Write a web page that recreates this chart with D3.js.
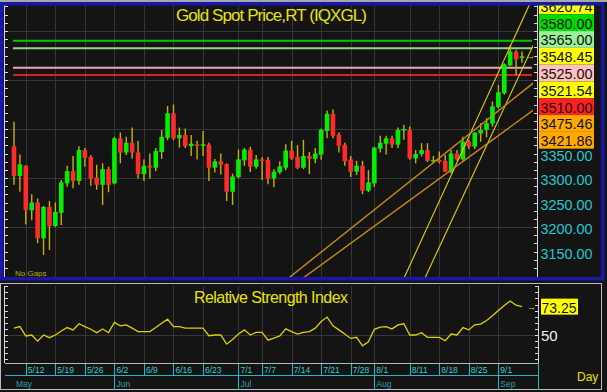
<!DOCTYPE html>
<html>
<head>
<meta charset="utf-8">
<script src="https://cdn.jsdelivr.net/npm/d3@7"></script>
<style>
body { margin: 0; background: #141414; }
svg { display: block; font-family: "Liberation Sans", Arial, sans-serif; }
</style>
</head>
<body>
<script>
// ---- data ----
const dates = [
  "2025-05-08","2025-05-09","2025-05-12","2025-05-13","2025-05-14","2025-05-15","2025-05-16",
  "2025-05-19","2025-05-20","2025-05-21","2025-05-22","2025-05-23","2025-05-26","2025-05-27",
  "2025-05-28","2025-05-29","2025-05-30","2025-06-02","2025-06-03","2025-06-04","2025-06-05",
  "2025-06-06","2025-06-09","2025-06-10","2025-06-11","2025-06-12","2025-06-13","2025-06-16",
  "2025-06-17","2025-06-18","2025-06-19","2025-06-20","2025-06-23","2025-06-24","2025-06-25",
  "2025-06-26","2025-06-27","2025-06-30","2025-07-01","2025-07-02","2025-07-03","2025-07-04",
  "2025-07-07","2025-07-08","2025-07-09","2025-07-10","2025-07-11","2025-07-14","2025-07-15",
  "2025-07-16","2025-07-17","2025-07-18","2025-07-21","2025-07-22","2025-07-23","2025-07-24",
  "2025-07-25","2025-07-28","2025-07-29","2025-07-30","2025-07-31","2025-08-01","2025-08-04",
  "2025-08-05","2025-08-06","2025-08-07","2025-08-08","2025-08-11","2025-08-12","2025-08-13",
  "2025-08-14","2025-08-15","2025-08-18","2025-08-19","2025-08-20","2025-08-21","2025-08-22",
  "2025-08-25","2025-08-26","2025-08-27","2025-08-28","2025-08-29","2025-09-01","2025-09-02",
  "2025-09-03","2025-09-04","2025-09-05"
]
const open = [3365,3304,3325,3234,3250,3177,3241,3202,3229,3289,3314,3294,3357,3343,3301,3286,3318,
  3289,3381,3352,3372,3352,3308,3325,3321,3353,3382,3432,3381,3388,3365,3369,3366,3368,3321,3334,3328,
  3272,3302,3336,3358,3323,3338,3337,3299,3312,3321,3356,3343,3321,3345,3339,3348,3396,3431,3388,3368,
  3338,3313,3325,3274,3289,3360,3370,3381,3368,3397,3398,3340,3349,3357,3335,3337,3335,3313,3350,3338,
  3374,3364,3391,3398,3411,3445,3473,3530,3558,3545]
const high = [3415,3348,3326,3267,3258,3243,3253,3250,3296,3325,3345,3365,3361,3347,3327,3330,3323,
  3384,3393,3384,3403,3376,3338,3350,3361,3398,3447,3450,3403,3401,3388,3376,3396,3372,3339,3350,3330,
  3309,3358,3361,3364,3347,3343,3343,3318,3334,3369,3376,3367,3378,3353,3361,3401,3438,3440,3393,3372,
  3345,3335,3335,3316,3364,3386,3386,3386,3403,3408,3405,3357,3371,3371,3345,3354,3347,3357,3357,3384,
  3378,3394,3412,3422,3456,3490,3534,3571,3561,3558]
const low = [3286,3272,3205,3214,3167,3143,3153,3200,3204,3282,3279,3286,3323,3284,3276,3245,3271,
  3287,3330,3347,3340,3299,3294,3299,3314,3339,3377,3377,3362,3361,3345,3338,3345,3294,3311,3307,3253,
  3245,3299,3325,3312,3319,3296,3287,3281,3308,3316,3337,3318,3318,3308,3330,3337,3381,3381,3352,3325,
  3302,3306,3267,3271,3282,3352,3348,3361,3361,3378,3338,3330,3344,3333,3330,3330,3312,3309,3335,3335,
  3359,3359,3374,3383,3405,3442,3470,3528,3510,3535]
const close = [3304,3328,3235,3250,3177,3241,3202,3231,3291,3314,3294,3357,3341,3299,3286,3318,3286,
  3381,3352,3372,3352,3308,3325,3321,3355,3384,3432,3381,3388,3365,3370,3366,3369,3321,3334,3327,3272,
  3303,3338,3358,3323,3338,3336,3299,3313,3324,3356,3340,3321,3345,3339,3350,3398,3431,3386,3366,3334,
  3313,3325,3274,3291,3362,3372,3381,3368,3398,3400,3340,3349,3357,3335,3337,3333,3313,3350,3338,3374,
  3364,3392,3398,3412,3446,3475,3532,3558,3542,3548.45]
const rsi = [55.6,56.9,49.2,50,45,50,47.8,50,53.3,56.1,54.2,59.2,56.9,54.7,51.9,55,51.9,60.3,57.5,
  58.3,55.6,52.8,52.8,52.8,56.1,59.7,63,56.9,56.9,55.6,55.6,55.6,55.6,49.4,50,50,42.5,46.4,50.8,54.2,
  50,52.2,52.2,45.8,47.5,49.2,55,52.8,50.8,52.2,52.8,55.6,61.1,64.7,57.5,54.2,50.8,47.2,48.1,41.1,44.4,
  54.7,56.4,56.9,55,58.3,59.2,50,50,51.9,48.1,48.1,48.1,45.3,50.8,50,56.1,54.2,58.3,58.9,61.9,65.8,
  70,74.2,77.8,74.4,73.25]

const tickDates = ["2025-05-12","2025-05-19","2025-05-26","2025-06-02","2025-06-09","2025-06-16",
  "2025-06-23","2025-07-01","2025-07-07","2025-07-14","2025-07-21","2025-07-28","2025-08-01",
  "2025-08-11","2025-08-18","2025-08-25","2025-09-01"]
const monthNames = ["May","Jun","Jul","Aug","Sep"]
const monthStarts = ["2025-05-08","2025-06-02","2025-07-01","2025-08-01","2025-09-01"]
const priceTicks = [3150,3200,3250,3300,3350,3400,3450,3500,3550,3600]

// horizontal alert levels and trendlines (two anchors each)
const levels = [3580, 3565, 3525, 3510]
const levelColors = ["#00c800", "#8ad88a", "#e8aaaa", "#dc1e1e"]
const levelBoxColors = ["#00dc00", "#98f098", "#ffc0c0", "#ff2020"]
const trendFrom = [["2025-08-19", 3279.1], ["2025-08-22", 3262.5], ["2025-07-25", 3187.2], ["2025-07-25", 3157.9]]
const trendTo = [["2025-09-05", 3620.74], ["2025-09-05", 3521.54], ["2025-09-05", 3475.46], ["2025-09-05", 3421.86]]
const trendColors = ["#e6d200", "#e6d200", "#c88a1c", "#c88a1c"]
const trendBoxColors = ["#ffff00", "#ffff00", "#ffa800", "#ffa800"]

// ---- layout ----
const W = 607, H = 392
const main = {left: 5, right: 537, top: 5, bottom: 277}
const sub = {top: 286, bottom: 363}

const svg = d3.select("body").append("svg")
    .attr("width", W)
    .attr("height", H)

svg.append("rect").attr("width", W).attr("height", H).attr("fill", "#141414")

const defs = svg.append("defs")
defs.append("clipPath").attr("id", "plotClip")
    .append("rect").attr("x", main.left + 1).attr("y", main.top)
    .attr("width", 533 - main.left - 1).attr("height", main.bottom - main.top)
defs.append("clipPath").attr("id", "labelClip")
    .append("rect").attr("x", 538).attr("y", main.top).attr("width", 60).attr("height", main.bottom - main.top)

const x = d3.scalePoint().domain(dates).range([14, 522])
const y = d3.scaleLinear().domain([3150, 3600]).range([251.5, 31])
const yr = d3.scaleLinear().domain([0, 100]).range([396, 274])

const gridColor = "#363636"

// ---- price panel ----
const grid = svg.append("g")
grid.selectAll("line.h").data([3200, 3300, 3400, 3500, 3600]).join("line")
    .attr("x1", main.left).attr("x2", main.right)
    .attr("y1", d => y(d) + 0.5).attr("y2", d => y(d) + 0.5)
    .attr("stroke", gridColor)
grid.selectAll("line.v").data(tickDates).join("line")
    .attr("x1", d => Math.round(x(d)) + 0.5).attr("x2", d => Math.round(x(d)) + 0.5)
    .attr("y1", main.top).attr("y2", main.bottom)
    .attr("stroke", gridColor)

const plot = svg.append("g").attr("clip-path", "url(#plotClip)")

plot.selectAll("line.level").data(levels).join("line")
    .attr("x1", x(dates[0]) - 1).attr("x2", 532)
    .attr("y1", d => y(d)).attr("y2", d => y(d))
    .attr("stroke", (d, i) => levelColors[i])
    .attr("stroke-width", 2)

const candles = dates.map((d, i) => ({d, o: open[i], h: high[i], l: low[i], c: close[i]}))
const cg = plot.selectAll("g.candle").data(candles).join("g")
cg.append("line")
    .attr("x1", d => x(d.d)).attr("x2", d => x(d.d))
    .attr("y1", d => y(d.h)).attr("y2", d => y(d.l))
    .attr("stroke", "#c8b000").attr("stroke-width", 1.4)
cg.append("rect")
    .attr("x", d => x(d.d) - 2.3)
    .attr("width", 4.6)
    .attr("y", d => y(Math.max(d.o, d.c)))
    .attr("height", d => Math.max(1.6, Math.abs(y(d.o) - y(d.c))))
    .attr("fill", d => d.c >= d.o ? "#00f000" : "#ff2a2a")

// trendlines extended across the plot
trendFrom.forEach((f, i) => {
    const t = trendTo[i]
    const x1 = x(f[0]), y1 = y(f[1]), x2 = x(t[0]), y2 = y(t[1])
    const k = (y2 - y1) / (x2 - x1)
    plot.append("line")
        .attr("x1", -200).attr("y1", y1 + k * (-200 - x1))
        .attr("x2", 800).attr("y2", y1 + k * (800 - x1))
        .attr("stroke", trendColors[i])
        .attr("stroke-width", i < 2 ? 1.1 : 1.4)
})

// last price arrow
svg.append("text").attr("x", 526).attr("y", y(close[close.length - 1]) + 3)
    .attr("font-size", 9).attr("fill", "#e6d200").text("→")

// axes lines and ticks
const axisColor = "#d8d8d8"
const minorTicks = d3.range(3000, 3700, 100 / 6).filter(v => y(v) > main.top + 1 && y(v) < main.bottom - 1)
svg.append("line").attr("x1", main.left - 0.5).attr("x2", main.left - 0.5)
    .attr("y1", main.top).attr("y2", main.bottom).attr("stroke", axisColor)
svg.selectAll("line.lt").data(minorTicks).join("line")
    .attr("x1", main.left - 0.5).attr("x2", main.left + 3)
    .attr("y1", d => Math.round(y(d)) + 0.5).attr("y2", d => Math.round(y(d)) + 0.5)
    .attr("stroke", axisColor)
svg.append("line").attr("x1", main.right + 0.5).attr("x2", main.right + 0.5)
    .attr("y1", main.top).attr("y2", main.bottom).attr("stroke", axisColor)
svg.selectAll("line.rt").data(minorTicks).join("line")
    .attr("x1", main.right - 3).attr("x2", main.right + 0.5)
    .attr("y1", d => Math.round(y(d)) + 0.5).attr("y2", d => Math.round(y(d)) + 0.5)
    .attr("stroke", axisColor)

// stacked value boxes, anchored on last close
const lastClose = close[close.length - 1]
const boxes = [
    ...levels.map((v, i) => ({v, fill: levelBoxColors[i]})),
    ...trendTo.map((t, i) => ({v: t[1], fill: trendBoxColors[i]})),
    {v: lastClose, fill: "#ffff00"}
].sort((a, b) => b.v - a.v)
const boxH = 16.8
const anchorIdx = boxes.findIndex(b => b.v === lastClose)
boxes.forEach((b, k) => b.cy = y(lastClose) + (k - anchorIdx) * boxH)
const stackBottom = boxes[boxes.length - 1].cy + boxH / 2

// price axis labels that are not hidden by the value boxes
svg.selectAll("text.pt").data(priceTicks.filter(v => y(v) > stackBottom)).join("text")
    .attr("x", 540.5).attr("y", d => y(d) + 2.2)
    .attr("dominant-baseline", "central")
    .attr("font-size", 14.5).attr("fill", "#1ec8d2")
    .attr("textLength", 52).attr("lengthAdjust", "spacingAndGlyphs")
    .text(d => d.toFixed(2))

const bg = svg.append("g").attr("clip-path", "url(#labelClip)")
bg.selectAll("rect").data(boxes).join("rect")
    .attr("x", 539).attr("width", 55)
    .attr("y", d => d.cy - boxH / 2).attr("height", boxH)
    .attr("fill", d => d.fill)
bg.selectAll("text").data(boxes).join("text")
    .attr("x", 540.5).attr("y", d => d.cy + 0.5)
    .attr("dominant-baseline", "central")
    .attr("font-size", 15).attr("fill", "#111")
    .attr("textLength", 52).attr("lengthAdjust", "spacingAndGlyphs")
    .text(d => d.v.toFixed(2))

// title and note
svg.append("text").attr("x", 176).attr("y", 21)
    .attr("font-size", 17).attr("fill", "#e8e400")
    .attr("textLength", 191).attr("lengthAdjust", "spacing")
    .text("Gold Spot Price,RT (IQXGL)")
svg.append("text").attr("x", 15).attr("y", 276)
    .attr("font-size", 8).attr("fill", "#b4b000")
    .text("No Gaps")

// frame of price panel
svg.append("rect").attr("x", 0).attr("y", 0).attr("width", W).attr("height", 2).attr("fill", "#a8a8a8")
svg.append("rect").attr("x", 1.75).attr("y", 3.75).attr("width", 601).attr("height", 275)
    .attr("fill", "none").attr("stroke", "#1818a8").attr("stroke-width", 3.5)

// ---- RSI panel ----
svg.append("rect").attr("x", 0.5).attr("y", 283.5).attr("width", 601).attr("height", 106)
    .attr("fill", "none").attr("stroke", "#bdbdbd")

svg.selectAll("line.rv").data(tickDates).join("line")
    .attr("x1", d => Math.round(x(d)) + 0.5).attr("x2", d => Math.round(x(d)) + 0.5)
    .attr("y1", sub.top).attr("y2", sub.bottom)
    .attr("stroke", gridColor)
svg.append("line").attr("x1", main.left).attr("x2", 538)
    .attr("y1", Math.round(yr(50)) + 0.5).attr("y2", Math.round(yr(50)) + 0.5)
    .attr("stroke", gridColor)

svg.append("path")
    .datum(rsi)
    .attr("fill", "none").attr("stroke", "#dcd200").attr("stroke-width", 1.3)
    .attr("d", d3.line().x((d, i) => x(dates[i])).y(d => yr(d)))

const rsiTicks = d3.range(0, 101, 5).filter(v => yr(v) > sub.top && yr(v) < sub.bottom)
svg.append("line").attr("x1", main.left - 0.5).attr("x2", main.left - 0.5)
    .attr("y1", sub.top).attr("y2", sub.bottom).attr("stroke", axisColor)
svg.selectAll("line.rlt").data(rsiTicks).join("line")
    .attr("x1", main.left - 0.5).attr("x2", main.left + 3)
    .attr("y1", d => Math.round(yr(d)) + 0.5).attr("y2", d => Math.round(yr(d)) + 0.5)
    .attr("stroke", axisColor)
svg.append("line").attr("x1", 538.5).attr("x2", 538.5)
    .attr("y1", sub.top).attr("y2", sub.bottom).attr("stroke", axisColor)
svg.selectAll("line.rrt").data(rsiTicks).join("line")
    .attr("x1", 535).attr("x2", 538.5)
    .attr("y1", d => Math.round(yr(d)) + 0.5).attr("y2", d => Math.round(yr(d)) + 0.5)
    .attr("stroke", axisColor)

svg.append("text").attr("x", 194).attr("y", 303)
    .attr("font-size", 16).attr("fill", "#e8e400")
    .attr("textLength", 154).attr("lengthAdjust", "spacing")
    .text("Relative Strength Index")

const lastRsi = rsi[rsi.length - 1]
svg.append("text").attr("x", 527).attr("y", yr(lastRsi) + 3)
    .attr("font-size", 9).attr("fill", "#e6d200").text("→")
svg.append("rect").attr("x", 541).attr("y", yr(lastRsi) - 8).attr("width", 37).attr("height", 16)
    .attr("fill", "#ffff00")
svg.append("text").attr("x", 541.5).attr("y", yr(lastRsi) + 0.5)
    .attr("dominant-baseline", "central")
    .attr("font-size", 15).attr("fill", "#111")
    .attr("textLength", 35).attr("lengthAdjust", "spacingAndGlyphs")
    .text(lastRsi.toFixed(2))
svg.append("text").attr("x", 541).attr("y", yr(50) + 0.5)
    .attr("dominant-baseline", "central")
    .attr("font-size", 15).attr("fill", "#f0f0f0")
    .text("50")

// ---- date axis ----
const cyan = "#22b8c4"
svg.append("line").attr("x1", main.left).attr("x2", 538)
    .attr("y1", 363.5).attr("y2", 363.5).attr("stroke", "#b8b8b8")
svg.selectAll("line.dt").data(tickDates).join("line")
    .attr("x1", d => Math.round(x(d)) + 0.5).attr("x2", d => Math.round(x(d)) + 0.5)
    .attr("y1", 364).attr("y2", 375).attr("stroke", cyan)
const fmt = d3.timeFormat("%-m/%-d")
const parse = d3.timeParse("%Y-%m-%d")
svg.selectAll("text.dt").data(tickDates).join("text")
    .attr("x", d => x(d) + 2).attr("y", 373)
    .attr("font-size", 8.5).attr("fill", "#3cc8cc")
    .text(d => fmt(parse(d)))
svg.append("line").attr("x1", main.left).attr("x2", 538)
    .attr("y1", 375.5).attr("y2", 375.5).attr("stroke", cyan)
svg.selectAll("line.mt").data(monthStarts.slice(1)).join("line")
    .attr("x1", d => Math.round(x(d)) + 0.5).attr("x2", d => Math.round(x(d)) + 0.5)
    .attr("y1", 375).attr("y2", 390).attr("stroke", cyan)
svg.selectAll("text.mt").data(monthStarts).join("text")
    .attr("x", d => x(d) + 2).attr("y", 387)
    .attr("font-size", 8.5).attr("fill", "#2ea0a6")
    .text((d, i) => monthNames[i])
svg.append("line").attr("x1", 538.5).attr("x2", 538.5)
    .attr("y1", 363).attr("y2", 390).attr("stroke", cyan)

svg.append("text").attr("x", 577).attr("y", 381)
    .attr("font-size", 12).attr("fill", "#e8e400")
    .text("Day")
</script>
</body>
</html>
